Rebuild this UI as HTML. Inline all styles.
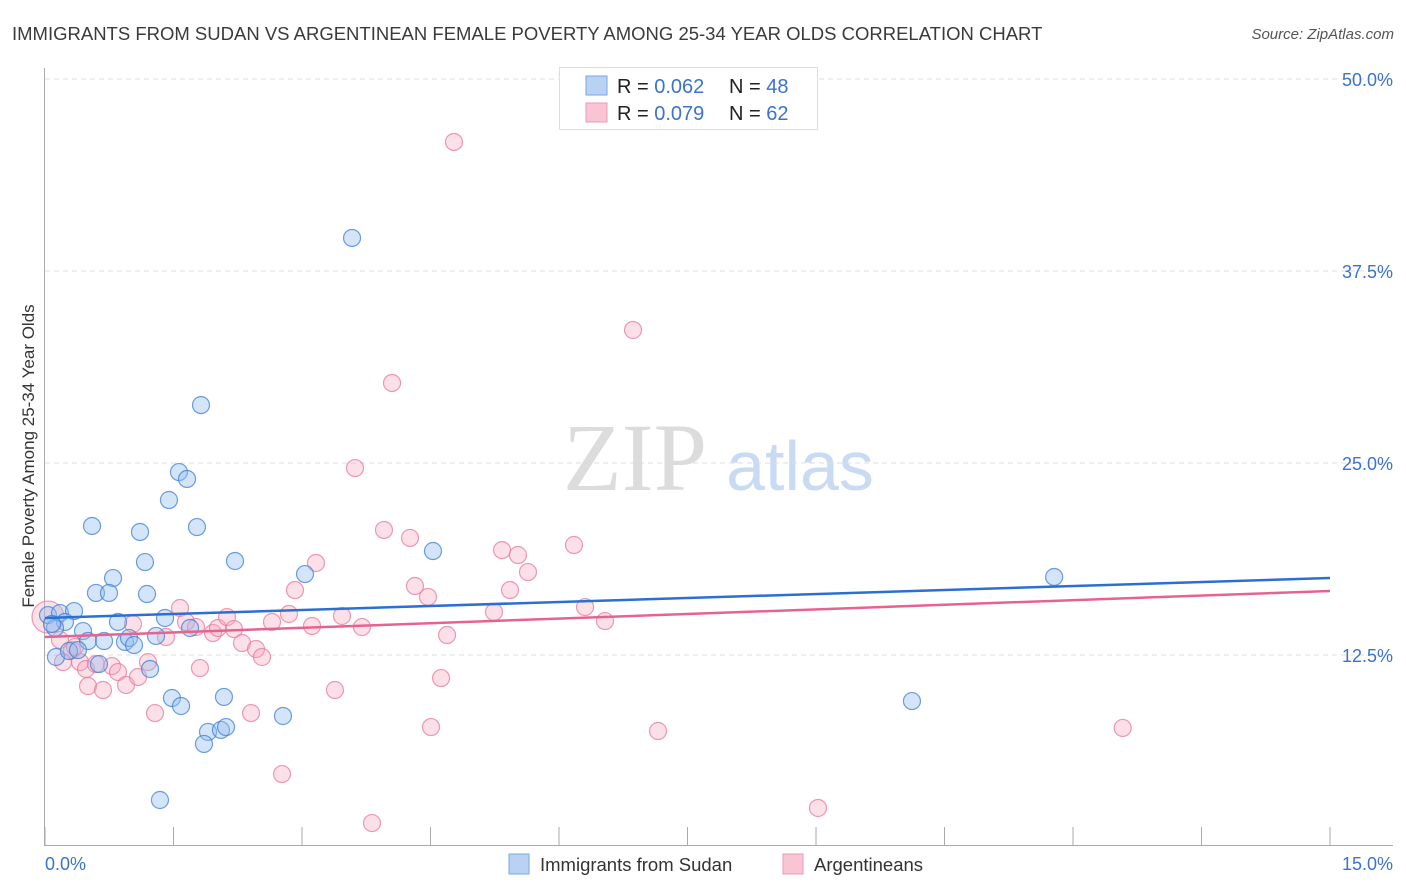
<!DOCTYPE html>
<html><head><meta charset="utf-8">
<style>
body{margin:0;background:#fff;font-family:"Liberation Sans",sans-serif;}
#wrap{position:relative;width:1406px;height:892px;overflow:hidden;}
</style></head>
<body>
<div id="wrap">
<svg id="chart" width="1406" height="892" xmlns="http://www.w3.org/2000/svg">
<text x="12" y="40" font-size="18.5" fill="#3a3a3a">IMMIGRANTS FROM SUDAN VS ARGENTINEAN FEMALE POVERTY AMONG 25-34 YEAR OLDS CORRELATION CHART</text>
<text x="1394" y="39" font-size="15" font-style="italic" fill="#555" text-anchor="end">Source: ZipAtlas.com</text>
<text transform="translate(34,456) rotate(-90)" font-size="17" fill="#333" text-anchor="middle">Female Poverty Among 25-34 Year Olds</text>
<g>
<text x="635" y="490" font-family="Liberation Serif,serif" font-size="96" fill="#dcdcdc" text-anchor="middle">ZIP</text>
<text x="800" y="490" font-size="70" fill="#c9daf3" text-anchor="middle">atlas</text>
</g>
<g id="grid"></g>
<g id="axes"></g>
<g id="marks"></g>
<g id="lines"></g>
<g>
<rect x="559.5" y="67.5" width="258" height="62" fill="#fff" stroke="#ddd"/>
<rect x="586" y="76" width="21" height="19" fill="#b9d2f3" stroke="#7aa6e3"/>
<rect x="586" y="103" width="21" height="19" fill="#f9c5d4" stroke="#eb9ab2"/>
<text x="617" y="93" font-size="20" fill="#222">R = <tspan fill="#3b73cc">0.062</tspan><tspan x="729">N = </tspan><tspan fill="#3b73cc">48</tspan></text>
<text x="617" y="120" font-size="20" fill="#222">R = <tspan fill="#3b73cc">0.079</tspan><tspan x="729">N = </tspan><tspan fill="#3b73cc">62</tspan></text>
</g>
<g>
<rect x="509" y="854" width="20" height="20" fill="#b9d2f3" stroke="#7aa6e3"/>
<text x="540" y="871" font-size="18.5" fill="#333">Immigrants from Sudan</text>
<rect x="783" y="854" width="20" height="20" fill="#f9c5d4" stroke="#eb9ab2"/>
<text x="814" y="871" font-size="18.5" fill="#333">Argentineans</text>
</g>
</svg>
</div>
<script>
const blueX=[0.035,0.175,0.339,0.233,0.117,0.444,0.502,0.689,0.852,0.934,0.981,1.039,1.296,1.401,1.693,0.128,0.280,0.385,0.630,1.226,0.549,1.109,0.794,1.167,0.595,0.747,1.191,1.447,1.564,1.658,1.774,2.218,1.821,3.035,3.584,4.529,1.482,1.588,2.089,1.903,2.054,2.113,1.856,2.778,1.342,10.12,11.78,0.082];
const blueY=[15.10,15.23,15.36,14.65,14.26,14.06,13.41,13.41,14.65,13.35,13.61,13.15,13.74,14.91,14.26,12.37,12.76,12.82,11.91,11.59,20.90,20.51,17.51,18.55,16.54,16.54,16.47,22.59,24.41,23.96,20.83,18.62,28.77,17.77,39.65,19.27,9.70,9.18,9.77,7.49,7.62,7.81,6.71,8.53,3.06,9.50,17.58,14.52];
const pinkX=[0.035,0.175,0.315,0.409,0.210,0.350,0.479,0.595,0.502,0.677,0.782,0.852,0.946,1.027,1.086,1.202,1.284,1.412,1.576,1.646,1.763,1.809,1.961,2.019,2.125,2.206,2.300,2.405,2.463,2.533,2.650,2.848,2.918,3.117,3.163,2.767,3.385,3.467,3.700,3.619,3.817,4.051,3.957,4.261,4.319,4.471,4.506,4.623,4.693,4.774,5.241,5.335,5.428,5.521,5.638,6.175,6.304,6.537,6.864,7.156,9.023,12.58];
const pinkY=[14.97,13.48,12.82,12.04,12.04,13.02,11.59,11.91,10.48,10.22,11.78,11.39,10.55,14.52,11.07,12.04,8.72,13.67,15.56,14.65,14.32,11.65,13.93,14.26,14.97,14.19,13.28,8.72,12.89,12.37,14.65,15.17,16.73,14.39,18.49,4.75,10.22,15.04,14.32,24.67,1.56,30.21,20.64,20.12,16.99,16.28,7.81,11.00,13.80,45.90,15.30,19.33,16.73,19.01,17.90,19.66,15.62,14.71,33.66,7.55,2.54,7.75];
const blueTrend=[14.91,17.51];
const pinkTrend=[13.67,16.67];
const yTicks=[12.5,25.0,37.5,50.0];
const yTickLabels=["12.5%","25.0%","37.5%","50.0%"];
const xTicks=[0,1.5,3,4.5,6,7.5,9,10.5,12,13.5,15];
const xEndLabels=["0.0%","15.0%"];

const NS="http://www.w3.org/2000/svg";
const sx=v=>45+v/15*1285;
const sy=v=>847-v/12.5*192;
function mk(tag,parent,attrs){const e=document.createElementNS(NS,tag);for(const k in attrs)e.setAttribute(k,attrs[k]);parent.appendChild(e);return e;}
const grid=document.getElementById('grid'),axes=document.getElementById('axes'),marks=document.getElementById('marks'),lines=document.getElementById('lines');
yTicks.forEach((t,i)=>{
  const l=mk('line',grid,{x1:45,x2:1393,y1:sy(t),y2:sy(t),stroke:'#ddd','stroke-dasharray':'5,4'});
  
  
  const tx=mk('text',axes,{x:1393,y:sy(t)+7,'font-size':18,fill:'#3b73cc','text-anchor':'end'});
  tx.textContent=yTickLabels[i];
  
  
});
const ya=mk('line',axes,{x1:44.5,x2:44.5,y1:68,y2:846,stroke:'#aaa'});


const xa=mk('line',axes,{x1:44,x2:1393,y1:845.5,y2:845.5,stroke:'#aaa'});


xTicks.forEach(t=>{
  const l=mk('line',axes,{x1:sx(t),x2:sx(t),y1:827,y2:845,stroke:'#aaa'});
  
  
});
const xl0=mk('text',axes,{x:45,y:870,'font-size':18,fill:'#3b73cc'});
xl0.textContent=xEndLabels[0];


const xl1=mk('text',axes,{x:1393,y:870,'font-size':18,fill:'#3b73cc','text-anchor':'end'});
xl1.textContent=xEndLabels[1];


pinkX.forEach((x,i)=>{
  const c=mk('circle',marks,{cx:sx(x),cy:sy(pinkY[i]),r:i===0?16:8.5,fill:'rgba(246,166,190,0.35)',stroke:'rgba(232,120,155,0.75)','stroke-width':1.2});
  
  
});
blueX.forEach((x,i)=>{
  const c=mk('circle',marks,{cx:sx(x),cy:sy(blueY[i]),r:8.5,fill:'rgba(150,190,240,0.4)',stroke:'rgba(60,125,215,0.75)','stroke-width':1.2});
  
  
});
const bl=mk('line',lines,{x1:sx(0),x2:sx(15),y1:sy(blueTrend[0]),y2:sy(blueTrend[1]),stroke:'#2c6fd3','stroke-width':2.5});


const pl=mk('line',lines,{x1:sx(0),x2:sx(15),y1:sy(pinkTrend[0]),y2:sy(pinkTrend[1]),stroke:'#e5648f','stroke-width':2.5});


</script>
</body></html>
